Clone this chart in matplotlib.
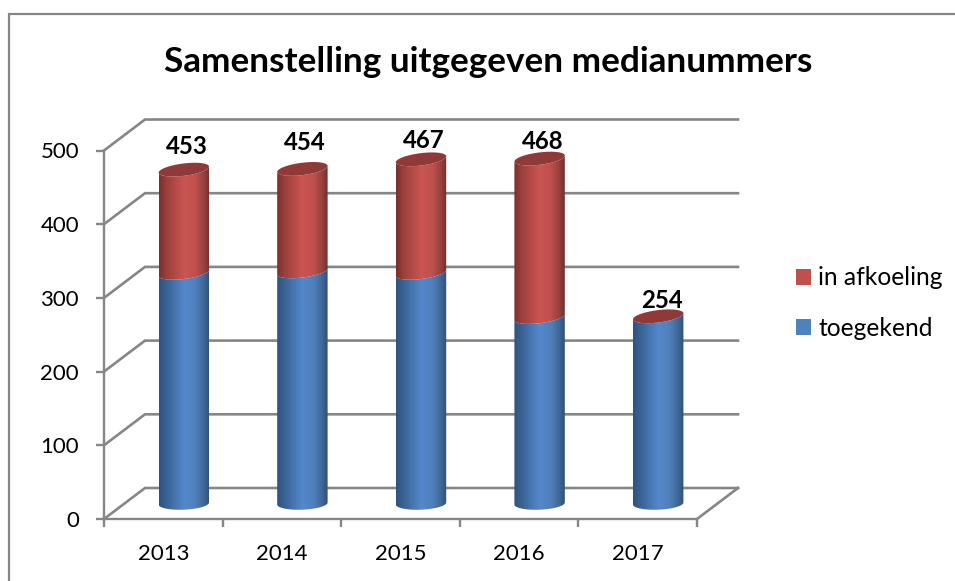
import numpy as np
import matplotlib
matplotlib.use("Agg")
import matplotlib.pyplot as plt
from matplotlib.colors import LinearSegmentedColormap
from matplotlib.lines import Line2D
from matplotlib.patches import Patch, Polygon

years = ["2013", "2014", "2015", "2016", "2017"]
toegekend = [313, 315, 313, 253, 254]
in_afkoeling = [140, 139, 154, 215, 0]
totals = [453, 454, 467, 468, 254]
yticks = [0, 100, 200, 300, 400, 500]
title = "Samenstelling uitgegeven medianummers"

W, H = 955, 581
GRAY = "#868686"
plt.rcParams["font.family"] = ["Lato", "DejaVu Sans"]

fig = plt.figure(figsize=(W / 100, H / 100), dpi=100, facecolor="white")
fig.add_artist(Line2D([9 / W, 9 / W, 1], [0, 1 - 14 / H, 1 - 14 / H], transform=fig.transFigure,
                      color=GRAY, lw=1.6, solid_joinstyle="miter"))

L, R, T, B = 104, 697, 150.5, 519
ax = fig.add_axes([L / W, 1 - B / H, (R - L) / W, (B - T) / H])
ax.set_xlim(-0.5, 4.5)
ax.set_ylim(0, 500)
ax.patch.set_visible(False)

px_x = (R - L) / 5
px_y = (B - T) / 500
DX, DY = 41 / px_x, 31 / px_y           # depth of the floor in data units

for s in ("top", "right"):
    ax.spines[s].set_visible(False)
for s in ("left", "bottom"):
    ax.spines[s].set_color(GRAY)
    ax.spines[s].set_linewidth(1.7)

ax.set_yticks(yticks)
ax.set_xticks(np.arange(-0.5, 5, 1))
ax.set_xticklabels([])
ax.set_xticks(np.arange(5), labels=years, minor=True)
ax.tick_params(axis="x", which="major", length=6, width=1.7, color=GRAY)
ax.tick_params(axis="x", which="minor", length=0, pad=18, labelsize=16)
ax.tick_params(axis="y", length=6, width=1.7, color=GRAY, pad=12, labelsize=16)

# back wall gridlines and the diagonals that join them to the front axis
for v in yticks:
    ax.plot([-0.5, -0.5 + DX, 4.5 + DX], [v, v + DY, v + DY], color=GRAY, lw=1.9,
            clip_on=False, zorder=1, solid_joinstyle="miter")
ax.plot([4.5, 4.5 + DX], [0, DY], color=GRAY, lw=1.9, clip_on=False, zorder=1)

blue_cm = LinearSegmentedColormap.from_list("b", [(0, "#2F5380"), (0.12, "#38608F"), (0.5, "#5488CC"),
                                                  (0.72, "#4F80BC"), (0.9, "#3E6594"), (1, "#2E4F78")])
red_cm = LinearSegmentedColormap.from_list("r", [(0, "#7A2F2D"), (0.14, "#9A3F3C"), (0.5, "#CB5551"),
                                                 (0.72, "#C0504D"), (0.9, "#93403C"), (1, "#6F2E2B")])
grad = np.linspace(0, 1, 128)[None, :]
TOP_COLOR = "#8F3A38"
a, b, tilt, base_tilt = 25.2 / px_x, 6.2 / px_y, 3.0 / px_y, 1.0 / px_y


def rim(cx, cy, t, s=tilt):
    return np.column_stack([cx + a * np.cos(t), cy + b * np.sin(t) + s * np.cos(t)])


def segment(cx, y0, y1, cmap, z, low_tilt=tilt):
    low = rim(cx, y0, np.linspace(np.pi, 2 * np.pi, 50), low_tilt)
    up = rim(cx, y1, np.linspace(2 * np.pi, np.pi, 50))
    poly = Polygon(np.vstack([low, up]), closed=True, transform=ax.transData, fc="none", ec="none")
    ax.add_patch(poly)
    im = ax.imshow(grad, cmap=cmap, extent=[cx - a, cx + a, y0 - 2 * b, y1 + 2 * b], aspect="auto",
                   interpolation="bilinear", zorder=z, clip_on=True)
    im.set_clip_path(poly)


for i in range(len(years)):
    cx = i + DX / 2
    base = DY / 2
    segment(cx, base, base + toegekend[i], blue_cm, 3, low_tilt=base_tilt)
    if in_afkoeling[i] > 0:
        segment(cx, base + toegekend[i], base + totals[i], red_cm, 4)
    cap = rim(cx, base + totals[i], np.linspace(0, 2 * np.pi, 100))
    ax.add_patch(Polygon(cap, closed=True, fc=TOP_COLOR, ec="none", zorder=5, clip_on=False))

ax.set_xlim(-0.5, 4.5)
ax.set_ylim(0, 500)

# manual label placement of the original (pixels above the cap / to the right)
nudge = [(3, 23), (2, 26), (3, 19), (3, 17), (4, 16)]
for i, t in enumerate(totals):
    ax.annotate(str(t), (i + DX / 2, DY / 2 + t), xytext=(nudge[i][0] * 0.72, nudge[i][1] * 0.72),
                textcoords="offset points", ha="center", va="center", fontsize=17.3,
                fontweight="bold", color="black", zorder=6, annotation_clip=False)

fig.text(488 / W, 1 - 61.5 / H, title, ha="center", va="center", fontsize=25.3, fontweight="bold", color="black")

handles = [Patch(fc="#C0504D", ec="none", label="in afkoeling"),
           Patch(fc="#4F81BD", ec="none", label="toegekend")]
fig.legend(handles=handles, loc="center left", bbox_to_anchor=(773.5 / W, 1 - 303 / H), frameon=False,
           fontsize=17.7, handlelength=0.62, handleheight=0.62, handletextpad=0.3, labelspacing=1.1)

fig.savefig("out.png", dpi=100, facecolor="white")
